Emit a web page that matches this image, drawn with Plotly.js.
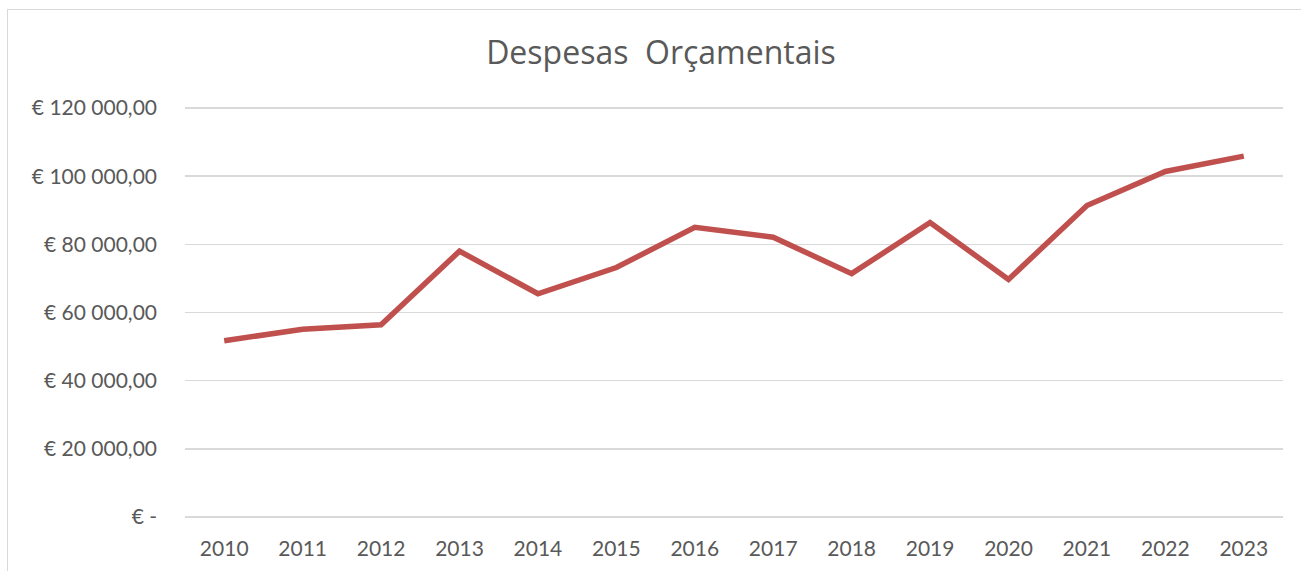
<!DOCTYPE html>
<html>
<head>
<meta charset="utf-8">
<script src="https://cdn.plot.ly/plotly-3.0.1.min.js"></script>
<style>
  html, body { margin: 0; padding: 0; background: #ffffff; overflow: hidden; }
  #chart { position: absolute; left: 0; top: 0; width: 1301px; height: 571px; }
  #frame { position: absolute; left: 7px; top: 9px; width: 1400px; height: 700px;
           border: 1.5px solid #d9d9d9; pointer-events: none; box-sizing: border-box; }
</style>
</head>
<body>
<div id="chart"></div>
<div id="frame"></div>
<script>
const years = ['2010','2011','2012','2013','2014','2015','2016','2017','2018','2019','2020','2021','2022','2023'];
const despesas = [51700, 55100, 56400, 78000, 65500, 73200, 85000, 82100, 71400, 86400, 69700, 91400, 101400, 105900];
const yTickVals = [0, 20000, 40000, 60000, 80000, 100000, 120000];
const yTickText = ['€ -', '€ 20 000,00', '€ 40 000,00', '€ 60 000,00', '€ 80 000,00', '€ 100 000,00', '€ 120 000,00'];
const chartTitle = 'Despesas \u00a0Orçamentais';

const trace = {
  type: 'scatter',
  mode: 'lines',
  x: years,
  y: despesas,
  line: { color: '#c0504d', width: 5.5, shape: 'linear' },
  hoverinfo: 'x+y'
};

const font = 'Lato, "Open Sans", sans-serif';
const layout = {
  width: 1301,
  height: 571,
  paper_bgcolor: 'rgba(0,0,0,0)',
  plot_bgcolor: 'rgba(0,0,0,0)',
  margin: { l: 185, r: 18, t: 106, b: 52 },
  showlegend: false,
  title: {
    text: chartTitle,
    font: { family: '"Open Sans", sans-serif', size: 32, color: '#595959' },
    x: 661 / 1301,
    xref: 'container',
    xanchor: 'center',
    y: 1 - 42 / 571,
    yref: 'container',
    yanchor: 'top'
  },
  xaxis: {
    type: 'category',
    range: [-0.5, 13.5],
    showgrid: false,
    zeroline: false,
    showline: false,
    ticks: '',
    tickfont: { family: font, size: 21, color: '#595959' },
    ticklabelstandoff: 15
  },
  yaxis: {
    range: [-600, 120600],
    tickvals: yTickVals,
    ticktext: yTickText,
    showgrid: true,
    gridcolor: '#d9d9d9',
    gridwidth: 1.5,
    zeroline: false,
    showline: false,
    ticks: '',
    tickfont: { family: font, size: 21, color: '#595959' },
    ticklabelstandoff: 27
  }
};

Plotly.newPlot('chart', [trace], layout, { displayModeBar: false, staticPlot: true });
</script>
</body>
</html>
